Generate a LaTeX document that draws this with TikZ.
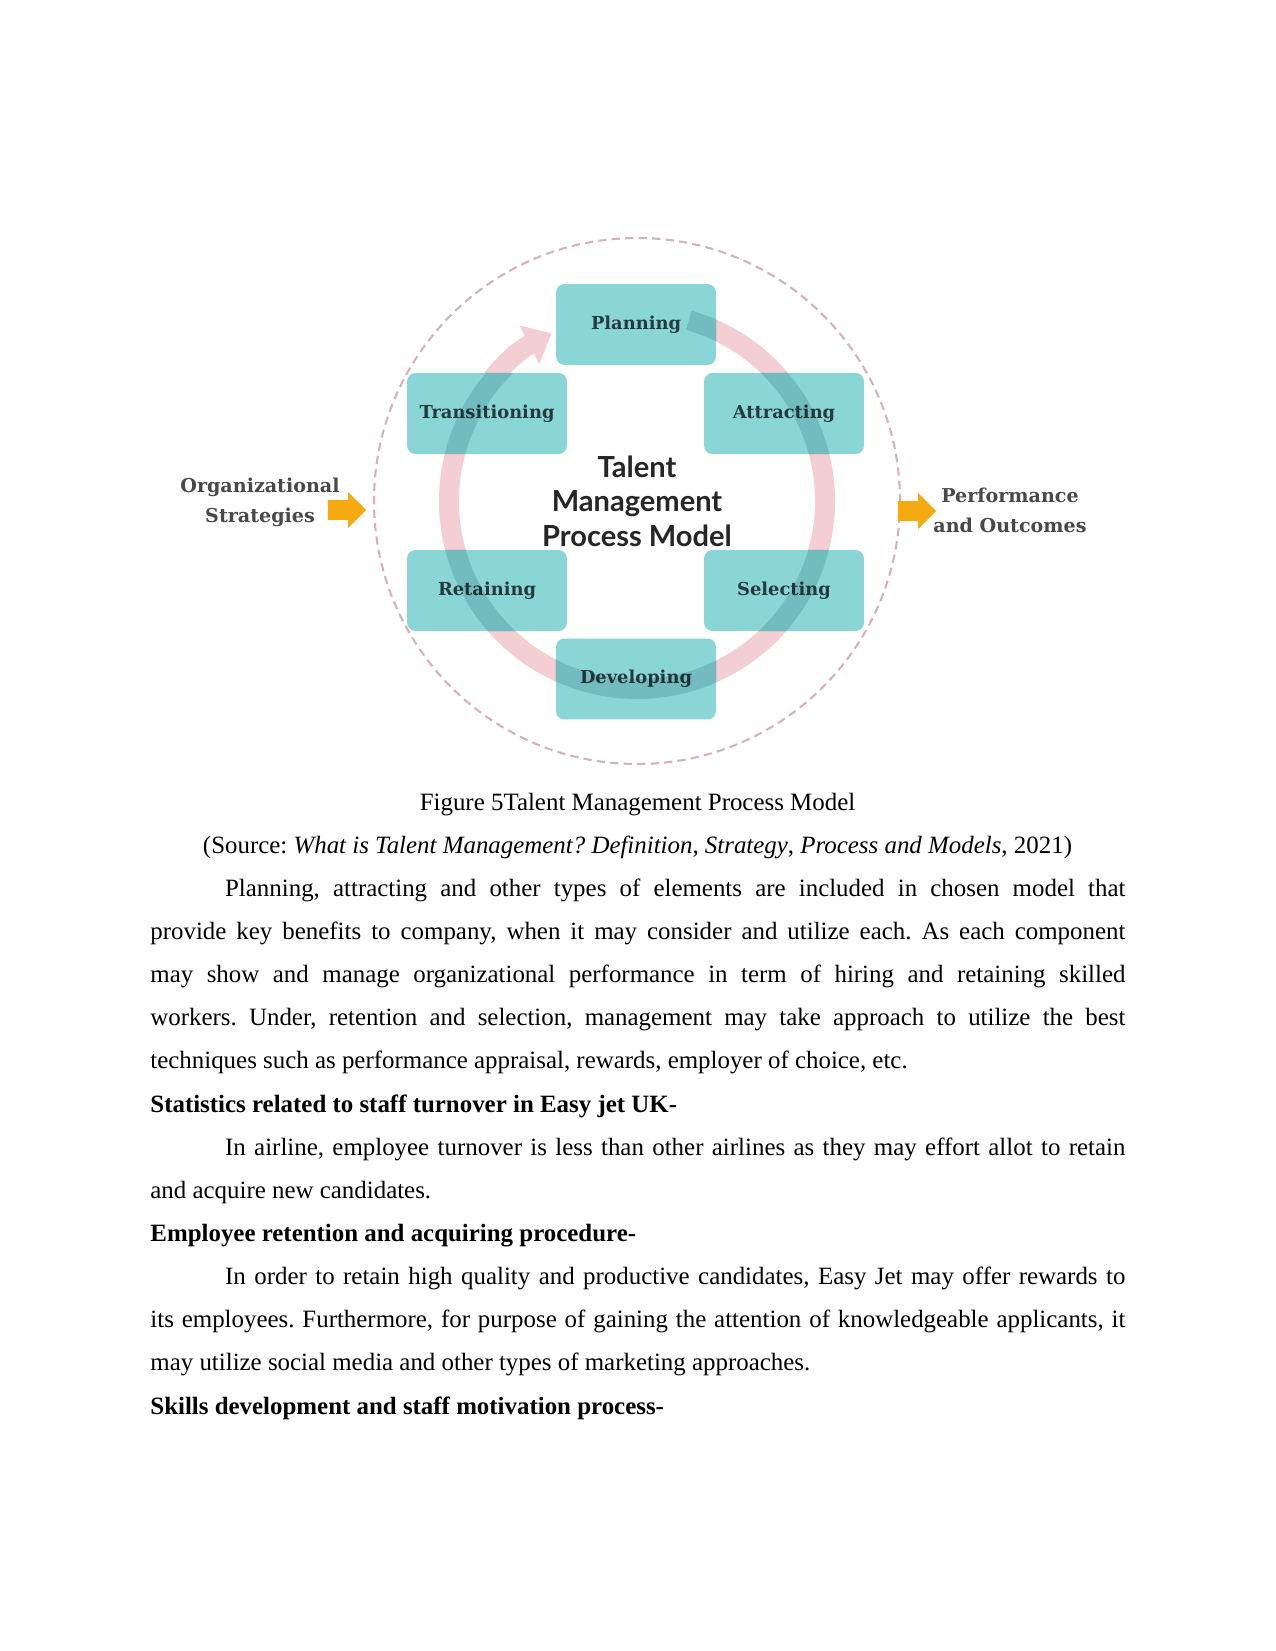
\documentclass[tikz,border=0pt]{standalone}
\usepackage{fontspec}
\setmainfont{Liberation Serif}
\newfontfamily\slabfont{DejaVu Serif}
\newfontfamily\titlefont{Lato}
\usetikzlibrary{arrows.meta,shapes.arrows}

\definecolor{boxteal}{RGB}{138,214,214}
\definecolor{ringpink}{RGB}{243,206,210}
\definecolor{ringshade}{RGB}{212,224,228}
\definecolor{dashrose}{RGB}{214,178,184}
\definecolor{arroworange}{RGB}{245,170,18}
\definecolor{labelgray}{RGB}{72,72,72}
\definecolor{stageink}{RGB}{38,58,62}

\tikzset{
  stagebox/.style={rectangle, rounded corners=4pt, fill=boxteal,
    minimum width=77pt, minimum height=39pt, text=stageink,
    font=\slabfont\bfseries\fontsize{8.6}{10}\selectfont},
  sidelabel/.style={align=center, text=labelgray,
    font=\slabfont\bfseries\fontsize{9.2}{14.5}\selectfont},
  sidearrow/.style={single arrow, fill=arroworange, inner xsep=0pt, inner ysep=4.6pt,
    minimum height=18.5pt, single arrow head extend=3.9pt},
  ringarrow/.style={line width=9.6pt, draw=ringpink,
    -{Triangle[width=20pt,length=12pt]}},
  dashring/.style={draw=dashrose, line width=1pt, dash pattern=on 4pt off 2.5pt},
  bodyline/.style={anchor=base west, inner sep=0pt, font=\fontsize{12}{20.72}\selectfont},
  para/.style={bodyline, text width=469.75pt, align=justify},
}

\begin{document}
\frenchspacing
\begin{tikzpicture}[x=0.4818pt,y=-0.4818pt]
  \useasboundingbox[fill=white] (0,0) rectangle (1275,1651);

  % the model
  \coordinate (hub) at (637,501);
  \draw[dashring] (hub) circle[radius=263];
  \draw[ringarrow] ([shift={(-74:188)}]hub) arc[start angle=-74, end angle=243, radius=188];
  \foreach \n/\t/\x/\y in {plan/Planning/636/324.5, attract/Attracting/784/413.5,
      select/Selecting/784/590.5, develop/Developing/636/679,
      retain/Retaining/487/590.5, transit/Transitioning/487/413.5}{
    \node[stagebox] (\n) at (\x,\y) {\t};
  }
  % ring seen through the boxes
  \begin{scope}[blend mode=multiply]
    \clip[rounded corners=4pt] \foreach \n in {plan,attract,select,develop,retain,transit}{
      (\n.south west) rectangle (\n.north east)};
    \draw[line width=9.6pt, draw=ringshade] ([shift={(-74:188)}]hub) arc[start angle=-74, end angle=243, radius=188];
  \end{scope}
  \node[align=center, text=black!85, font=\titlefont\bfseries\fontsize{14}{16.7}\selectfont]
    (title) at (hub) {Talent\\Management\\Process Model};

  % inputs and outputs
  \node[sidelabel] (orglabel) at (260,502) {Organizational\\Strategies};
  \node[sidearrow] (orgarrow) at (342,510) {};
  \node[sidearrow] (perfarrow) at (912,511) {};
  \node[sidelabel] (perflabel) at (1010,510) {Performance\\and Outcomes};

  % text of the page
  \node[bodyline, anchor=base] (caption) at (637.5,810) {Figure 5Talent Management Process Model};
  \node[bodyline, anchor=base] (source) at (637.5,853.2) {(Source: \textit{What is Talent Management? Definition}, \textit{Strategy}, \textit{Process and Models}, 2021)};
  \node[para] (para1) at (150,896.3) {\hspace*{36pt}Planning, attracting and other types of elements are included in chosen model that\linebreak
    provide key benefits to company, when it may consider and utilize each. As each component\linebreak
    may show and manage organizational performance in term of hiring and retaining skilled\linebreak
    workers. Under, retention and selection, management may take approach to utilize the best\linebreak
    techniques such as performance appraisal, rewards, employer of choice, etc.};
  \node[bodyline] (head1) at (150,1112.2) {\bfseries Statistics related to staff turnover in Easy jet UK-};
  \node[para] (para2) at (150,1155.4) {\hspace*{36pt}In airline, employee turnover is less than other airlines as they may effort allot to retain\linebreak
    and acquire new candidates.};
  \node[bodyline] (head2) at (150,1241.7) {\bfseries Employee retention and acquiring procedure-};
  \node[para] (para3) at (150,1284.9) {\hspace*{36pt}In order to retain high quality and productive candidates, Easy Jet may offer rewards to\linebreak
    its employees. Furthermore, for purpose of gaining the attention of knowledgeable applicants, it\linebreak
    may utilize social media and other types of marketing approaches.};
  \node[bodyline] (head3) at (150,1414.4) {\bfseries Skills development and staff motivation process-};
\end{tikzpicture}
\end{document}
